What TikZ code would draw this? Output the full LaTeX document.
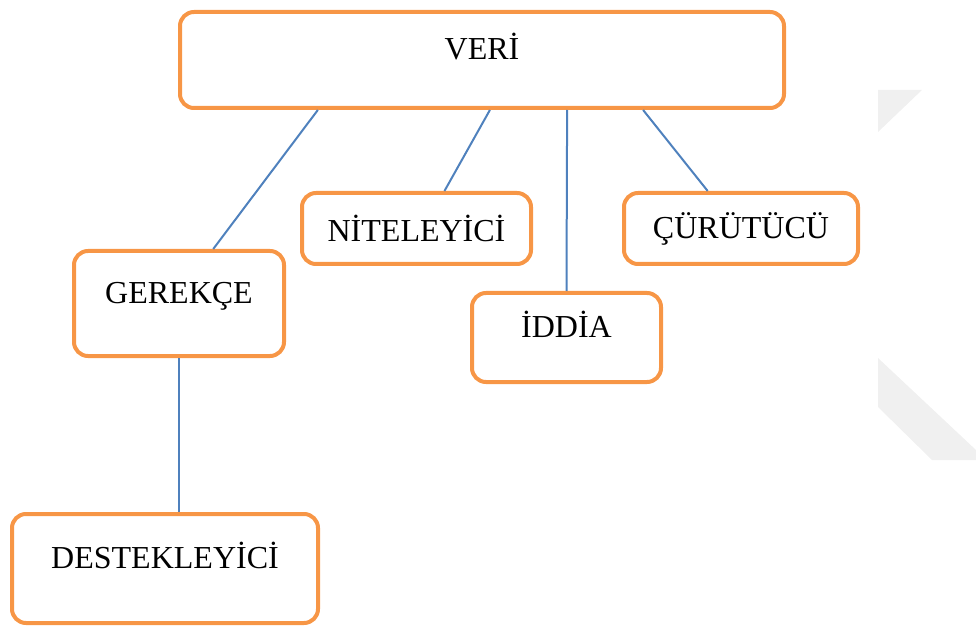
\documentclass[tikz,border=0pt]{standalone}
\usepackage{fontspec}
\setmainfont{Liberation Serif}
\usetikzlibrary{calc}
\definecolor{boxorange}{HTML}{F79646}
\definecolor{lineblue}{HTML}{4F81BD}
\definecolor{markgray}{HTML}{F0F0F0}

\begin{document}
\begin{tikzpicture}[x=0.5pt, y=-0.5pt]
\tikzset{
  box/.style={
    draw=boxorange, line width=2pt, rectangle, rounded corners=7pt,
    inner sep=0pt, align=center, font=\fontsize{16}{19}\selectfont
  },
  tall/.style={text height=10pt, text depth=10pt},
  link/.style={draw=lineblue, line width=1pt}
}
\useasboundingbox (0,0) rectangle (976,631);
% faint mark on the right
\fill[markgray] (878,90) -- (922,90) -- (878,132) -- cycle;
\fill[markgray] (878,358) -- (976,450) -- (976,460) -- (932,460) -- (878,407) -- cycle;

\node[box, tall, minimum width=302pt, minimum height=48pt]   (veri)    at (482,60)    {VERİ};
\node[box, tall, minimum width=105pt, minimum height=52.5pt] (gerekce) at (179,303.5) {GEREKÇE};
\node[box, tall, minimum width=153pt, minimum height=54.5pt] (destek)  at (165,568.5) {DESTEKLEYİCİ};
\node[box, minimum width=114.5pt, minimum height=35.5pt]     (nitel)   at (416.5,228.5) {NİTELEYİCİ};
\node[box, minimum width=117pt, minimum height=35.5pt]       (curutucu) at (741,228.5) {ÇÜRÜTÜCÜ};
\node[box, tall, minimum width=94.5pt, minimum height=44.5pt] (iddia)  at (566.5,337.5) {İDDİA};

\draw[link] ($(veri.south west)!0.23!(veri.south east)$) -- ($(gerekce.north west)!0.66!(gerekce.north east)$);
\draw[link] ($(veri.south west)!0.513!(veri.south east)$) -- ($(nitel.north west)!0.62!(nitel.north east)$);
\draw[link] ($(veri.south west)!0.64!(veri.south east)$) -- (iddia.north);
\draw[link] ($(veri.south west)!0.765!(veri.south east)$) -- ($(curutucu.north west)!0.36!(curutucu.north east)$);
\draw[link] (gerekce.south) -- (gerekce.south |- destek.north);
\end{tikzpicture}
\end{document}
